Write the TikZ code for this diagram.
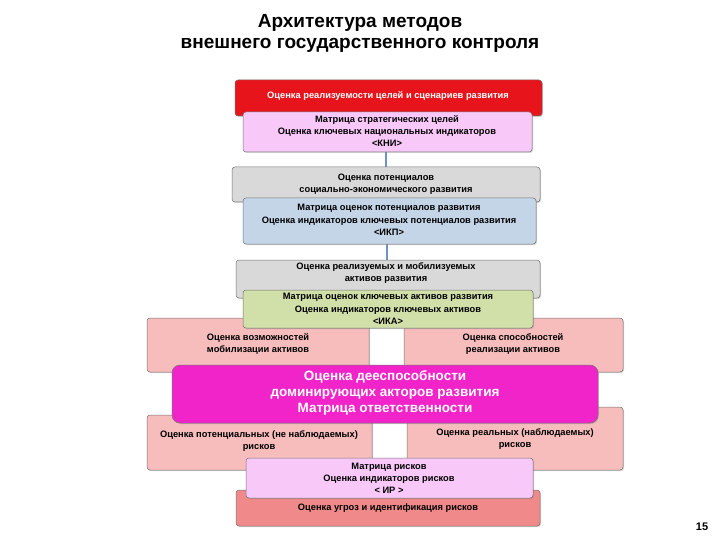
\documentclass[tikz,border=0pt]{standalone}
\usepackage{fontspec}
\setmainfont{Liberation Sans}
\usetikzlibrary{shadows}
\definecolor{cred}{HTML}{E8141B}
\definecolor{cpink}{HTML}{F8C9F8}
\definecolor{cgray}{HTML}{D9D9D9}
\definecolor{cblue}{HTML}{C5D5E8}
\definecolor{cgreen}{HTML}{D1DFA8}
\definecolor{csalmon}{HTML}{F7BDBD}
\definecolor{cmag}{HTML}{F024C8}
\definecolor{cbot}{HTML}{F08A8A}
\definecolor{cline}{HTML}{6F93C8}
\tikzset{
  box/.style={draw=black!55, line width=0.5pt, rounded corners=3pt, drop shadow={shadow xshift=1pt,shadow yshift=-1pt,opacity=0.35}},
  txt/.style={font=\bfseries\fontsize{9.3}{12.2}\selectfont, align=center, text=black},
}
\begin{document}
\begin{tikzpicture}[x=1pt,y=-1pt]
\useasboundingbox (0,0) rectangle (720,540);
\node[font=\bfseries\fontsize{19}{21}\selectfont, align=center] (title) at (360,33) {Архитектура методов\\внешнего государственного контроля};
% connectors
\coordinate (c1) at (386,150); \coordinate (c2) at (386,169);
\coordinate (c3) at (387,242); \coordinate (c4) at (387,262);
\draw[cline, line width=2pt] (c1) -- (c2);
\draw[cline, line width=2pt] (c3) -- (c4);
% boxes
\draw[box, fill=cred] (235,80) rectangle (542,116);
\node[txt, text=white] (t1) at (388,96) {Оценка реализуемости целей и сценариев развития};
\draw[box, fill=cpink] (243,112) rectangle (532,152);
\node[txt] (t2) at (387,131) {Матрица стратегических целей\\Оценка ключевых национальных индикаторов\\<КНИ>};
\draw[box, fill=cgray] (232,167) rectangle (540,202);
\node[txt] (t3) at (386,184) {Оценка потенциалов\\социально-экономического развития};
\draw[box, fill=cblue] (243,198) rectangle (536,244);
\node[txt] (t4) at (389,220) {Матрица оценок потенциалов развития\\Оценка индикаторов ключевых потенциалов развития\\<ИКП>};
\draw[box, fill=cgray] (236,260) rectangle (540,298);
\node[txt] (t5) at (386,273) {Оценка реализуемых и мобилизуемых\\активов развития};
\draw[box, fill=csalmon] (147,318) rectangle (369,372);
\node[txt] (t6) at (258,344) {Оценка возможностей\\мобилизации активов};
\draw[box, fill=csalmon] (404,318) rectangle (623,372);
\node[txt] (t7) at (513,344) {Оценка способностей\\реализации активов};
\draw[box, fill=cgreen] (243,290) rectangle (533,328);
\node[txt] (t8) at (388,309) {Матрица оценок ключевых активов развития\\Оценка индикаторов ключевых активов\\<ИКА>};
\draw[box, fill=csalmon] (147,415) rectangle (372,470);
\node[txt] (t9) at (259,441) {Оценка потенциальных (не наблюдаемых)\\рисков};
\draw[box, fill=csalmon] (407,407) rectangle (623,470);
\node[txt] (t10) at (515,439) {Оценка реальных (наблюдаемых)\\рисков};
\draw[box, fill=cmag, rounded corners=8pt] (172,365) rectangle (598,423);
\node[txt, text=white, font=\bfseries\fontsize{13.5}{16}\selectfont] (t11) at (385,393) {Оценка дееспособности\\доминирующих  акторов развития\\Матрица ответственности};
\draw[box, fill=cbot] (236,490) rectangle (540,526);
\node[txt] (t12) at (388,508) {Оценка угроз и идентификация рисков};
\draw[box, fill=cpink] (246,458) rectangle (533,498);
\node[txt] (t13) at (389,478) {Матрица рисков\\Оценка индикаторов рисков\\< ИР >};
\node[font=\bfseries\fontsize{11}{13}\selectfont] (pg) at (702,527) {15};
\end{tikzpicture}
\end{document}
